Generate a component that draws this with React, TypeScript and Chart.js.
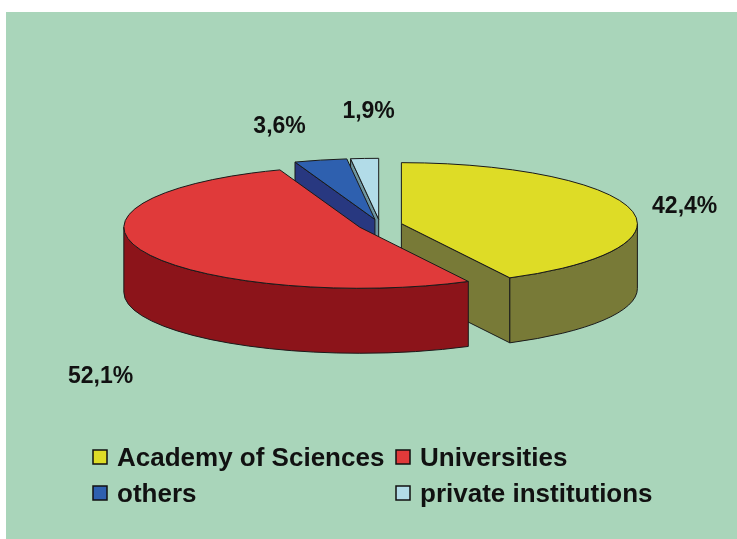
import React, { useEffect, useRef } from 'react';
import { Chart, registerables } from 'chart.js';

Chart.register(...registerables);

// ---- data ----
const categories = ['Academy of Sciences', 'Universities', 'others', 'private institutions'];
const shares = [42.4, 52.1, 3.6, 1.9];

// ---- styles ----
const topColors = ['#DEDC26', '#E03A3A', '#2E60AF', '#B2DCE8'];
const sideColors = ['#787A37', '#8C141A', '#283880', '#6E96A0'];
const W = 737;
const H = 539;
const FONT = '"Liberation Sans", Arial, Helvetica, sans-serif';

const fmt = (v: number) => v.toFixed(1).replace('.', ',') + '%';

const pie3d: any = {
  id: 'pie3d',
  beforeDraw(chart: any, _args: any, opts: any) {
    const { ctx } = chart;
    ctx.save();
    ctx.fillStyle = '#ffffff';
    ctx.fillRect(0, 0, chart.width, chart.height);
    ctx.fillStyle = opts.panel;
    ctx.fillRect(opts.panelX, opts.panelY, chart.width - opts.panelX, chart.height - opts.panelY);
    ctx.restore();
  },
  beforeDatasetsDraw(chart: any, _args: any, opts: any) {
    const ctx = chart.ctx;
    const meta = chart.getDatasetMeta(0);
    const { rx, ry, depth, outline, sides, labelShift, labelFont } = opts;
    const slices = meta.data.map((el: any, i: number) => {
      const p = el.getProps(['x', 'y', 'startAngle', 'endAngle'], true);
      const off = el.options.offset || 0;
      const mid = (p.startAngle + p.endAngle) / 2;
      return {
        i,
        s: p.startAngle,
        e: p.endAngle,
        mid,
        cx: p.x + Math.cos(mid) * off,
        cy: p.y + (Math.sin(mid) * off * ry) / rx,
        top: el.options.backgroundColor,
        side: sides[i],
      };
    });
    const pt = (c: any, a: number, h = 0) => [c.cx + rx * Math.cos(a), c.cy + ry * Math.sin(a) + h];
    ctx.save();
    ctx.lineWidth = 1;
    ctx.strokeStyle = outline;
    ctx.lineJoin = 'round';
    const order = slices.slice().sort((a: any, b: any) => Math.sin(a.mid) - Math.sin(b.mid));
    const quad = (c: any, a: number) => {
      const p = pt(c, a);
      ctx.beginPath();
      ctx.moveTo(c.cx, c.cy);
      ctx.lineTo(p[0], p[1]);
      ctx.lineTo(p[0], p[1] + depth);
      ctx.lineTo(c.cx, c.cy + depth);
      ctx.closePath();
      ctx.fill();
      ctx.stroke();
    };
    for (const c of order) {
      ctx.fillStyle = c.side;
      if (Math.cos(c.s) < -1e-6) quad(c, c.s);
      if (Math.cos(c.e) > 1e-6) quad(c, c.e);
      const a0 = Math.max(c.s, 0);
      const a1 = Math.min(c.e, Math.PI);
      if (a1 > a0) {
        const p0 = pt(c, a0);
        const p1 = pt(c, a1, depth);
        ctx.beginPath();
        ctx.moveTo(p0[0], p0[1]);
        ctx.ellipse(c.cx, c.cy, rx, ry, 0, a0, a1, false);
        ctx.lineTo(p1[0], p1[1]);
        ctx.ellipse(c.cx, c.cy + depth, rx, ry, 0, a1, a0, true);
        ctx.closePath();
        ctx.fill();
        ctx.stroke();
      }
      ctx.fillStyle = c.top;
      ctx.beginPath();
      ctx.moveTo(c.cx, c.cy);
      ctx.ellipse(c.cx, c.cy, rx, ry, 0, c.s, c.e, false);
      ctx.closePath();
      ctx.fill();
      ctx.stroke();
    }
    // value labels
    const values = chart.data.datasets[0].data;
    ctx.fillStyle = '#111111';
    ctx.font = labelFont;
    ctx.textAlign = 'center';
    ctx.textBaseline = 'alphabetic';
    for (const c of slices) {
      const sm = Math.sin(c.mid);
      const ax = c.cx + rx * Math.cos(c.mid) + labelShift[c.i][0];
      const ay = c.cy + ry * sm + (sm > 0 ? depth : 0) + labelShift[c.i][1];
      ctx.fillText(fmt(values[c.i]), ax, ay + 8);
    }
    ctx.restore();
    return false;
  },
  afterDraw(chart: any, _args: any, opts: any) {
    const ctx = chart.ctx;
    const labels = chart.data.labels;
    const colors = chart.data.datasets[0].backgroundColor;
    const { legendCols, legendRows, box, legendFont } = opts;
    ctx.save();
    ctx.font = legendFont;
    ctx.textAlign = 'left';
    ctx.textBaseline = 'alphabetic';
    labels.forEach((lab: string, i: number) => {
      const x = legendCols[i % 2];
      const y = legendRows[Math.floor(i / 2)];
      ctx.fillStyle = colors[i];
      ctx.fillRect(x, y - box / 2, box, box);
      ctx.lineWidth = 1.5;
      ctx.strokeStyle = '#111111';
      ctx.strokeRect(x, y - box / 2, box, box);
      ctx.fillStyle = '#111111';
      ctx.fillText(lab, x + box + 10, y + 9);
    });
    ctx.restore();
  },
};

export default function App() {
  const ref = useRef<HTMLCanvasElement | null>(null);
  useEffect(() => {
    document.body.style.margin = '0';
    if (!ref.current) return;
    const chart = new Chart(ref.current, {
      type: 'pie',
      data: {
        labels: categories,
        datasets: [
          {
            data: shares,
            backgroundColor: topColors,
            borderWidth: 0,
            offset: 22,
            hoverOffset: 0,
          },
        ],
      },
      options: {
        responsive: false,
        animation: false,
        events: [],
        layout: { padding: { left: 100, right: 77, top: 60, bottom: 149 } },
        plugins: {
          legend: { display: false },
          tooltip: { enabled: false },
          pie3d: {
            panel: '#A9D5BA',
            panelX: 6,
            panelY: 12,
            rx: 236,
            ry: 61,
            depth: 65,
            outline: '#1a1a1a',
            sides: sideColors,
            labelShift: [
              [54, -4],
              [-43, 58],
              [-41, -35],
              [4, -48],
            ],
            labelFont: `bold 23px ${FONT}`,
            legendFont: `bold 26px ${FONT}`,
            legendCols: [93, 396],
            legendRows: [457, 493],
            box: 14,
          },
        } as any,
      },
      plugins: [pie3d],
    });
    return () => chart.destroy();
  }, []);
  return (
    <div style={{ position: 'absolute', left: 0, top: 0, width: W, height: H }}>
      <canvas ref={ref} width={W} height={H} style={{ width: W, height: H, display: 'block' }} />
    </div>
  );
}
